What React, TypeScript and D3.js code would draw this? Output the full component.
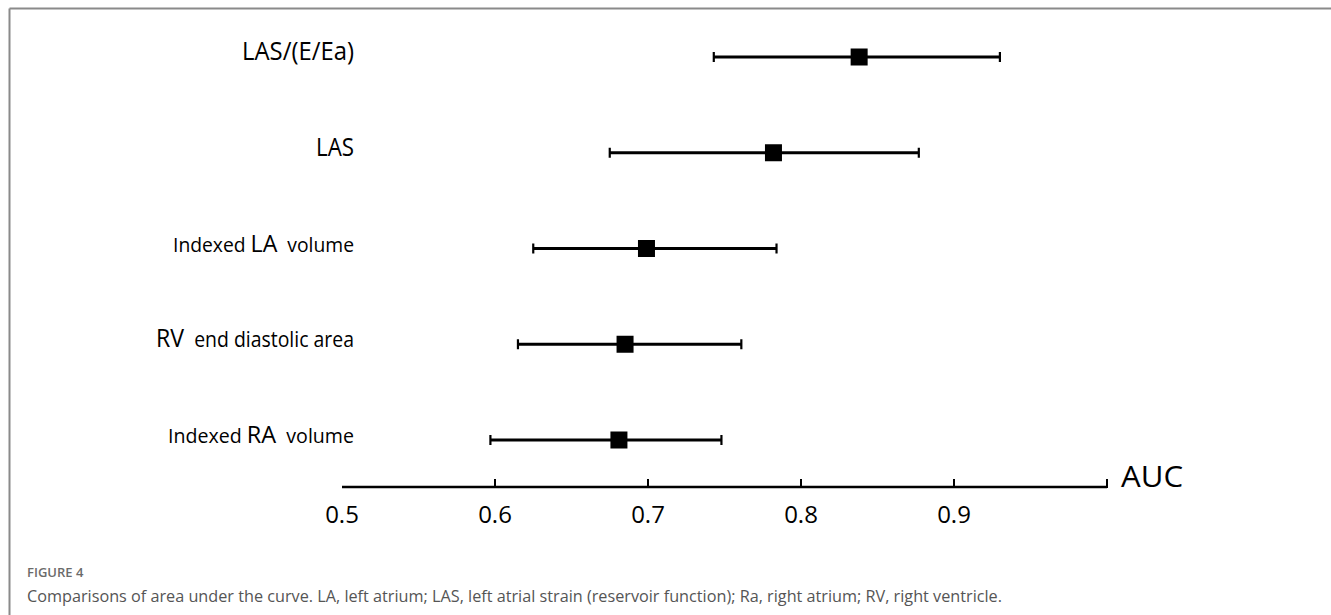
import React from "react";
import * as d3 from "d3";

const categories = ["LAS/(E/Ea)", "LAS", "Indexed LA volume", "RV end diastolic area", "Indexed RA volume"];
const auc = [0.838, 0.782, 0.699, 0.685, 0.681];
const ciLow = [0.743, 0.675, 0.625, 0.615, 0.597];
const ciHigh = [0.930, 0.877, 0.784, 0.761, 0.748];
const tickValues = [0.5, 0.6, 0.7, 0.8, 0.9];
const axisTitle = "AUC";
const figureLabel = "FIGURE 4";
const caption =
  "Comparisons of area under the curve. LA, left atrium; LAS, left atrial strain (reservoir function); Ra, right atrium; RV, right ventricle.";

// label segments: [text, size]
const labelParts: [string, number][][] = [
  [["LAS/(E/Ea)", 25]],
  [["LAS", 25]],
  [["Indexed ", 20], ["LA", 24], ["  volume", 20]],
  [["RV", 25], ["  end diastolic area", 21]],
  [["Indexed ", 20], ["RA", 24], ["  volume", 20]],
];
const labelWidths = [112, 38, 181, 198, 186];

export default function App() {
  const W = 1331;
  const H = 615;
  const x = d3.scaleLinear().domain([0.5, 1.0]).range([342, 1107]);
  const y = d3.scalePoint<string>().domain(categories).range([57, 440]);
  const axisY = 487;
  const font = "'Open Sans', sans-serif";
  const sq = 17;

  return (
    <svg width={W} height={H} style={{ position: "absolute", left: 0, top: 0, background: "#fff" }}>
      {/* frame */}
      <line x1={9.5} y1={8.5} x2={W} y2={8.5} stroke="#8a8a8a" strokeWidth={2} />
      <line x1={9.5} y1={8.5} x2={9.5} y2={H} stroke="#8a8a8a" strokeWidth={2} />

      {/* labels */}
      {categories.map((c, i) => (
        <text
          key={c}
          x={354}
          y={(y(c) as number) + 3}
          textAnchor="end"
          fontFamily={font}
          fill="#000"
          textLength={labelWidths[i]}
          lengthAdjust="spacingAndGlyphs"
          style={{ whiteSpace: "pre" }}
        >
          {labelParts[i].map(([t, s], j) => (
            <tspan key={j} fontSize={s}>
              {t}
            </tspan>
          ))}
        </text>
      ))}

      {/* error bars */}
      {categories.map((c, i) => {
        const yy = y(c) as number;
        return (
          <g key={c}>
            <line x1={x(ciLow[i])} x2={x(ciHigh[i])} y1={yy} y2={yy} stroke="#000" strokeWidth={3} />
            <line x1={x(ciLow[i])} x2={x(ciLow[i])} y1={yy - 5} y2={yy + 5} stroke="#000" strokeWidth={2.2} />
            <line x1={x(ciHigh[i])} x2={x(ciHigh[i])} y1={yy - 5} y2={yy + 5} stroke="#000" strokeWidth={2.2} />
            <rect x={x(auc[i]) - sq / 2} y={yy - sq / 2} width={sq} height={sq} fill="#000" />
          </g>
        );
      })}

      {/* axis */}
      <line x1={x(0.5)} x2={x(1.0)} y1={axisY} y2={axisY} stroke="#000" strokeWidth={2.5} />
      {tickValues.slice(1).map((t) => (
        <line key={t} x1={x(t)} x2={x(t)} y1={axisY} y2={axisY - 8} stroke="#000" strokeWidth={2} />
      ))}
      <line x1={x(1.0)} x2={x(1.0)} y1={axisY + 1} y2={axisY - 8} stroke="#000" strokeWidth={2} />
      {tickValues.map((t) => (
        <text key={t} x={x(t)} y={523} textAnchor="middle" fontFamily={font} fontSize={24} fill="#000">
          {d3.format(".1f")(t)}
        </text>
      ))}
      <text x={1121} y={487} fontFamily={font} fontSize={30} fill="#000" textLength={62} lengthAdjust="spacingAndGlyphs">
        {axisTitle}
      </text>

      {/* caption */}
      <text x={27} y={577} fontFamily={font} fontSize={13} fontWeight={600} fill="#6b6b6b">
        {figureLabel}
      </text>
      <text x={27} y={602} fontFamily={font} fontSize={17} fill="#555" textLength={975} lengthAdjust="spacingAndGlyphs">
        {caption}
      </text>
    </svg>
  );
}
